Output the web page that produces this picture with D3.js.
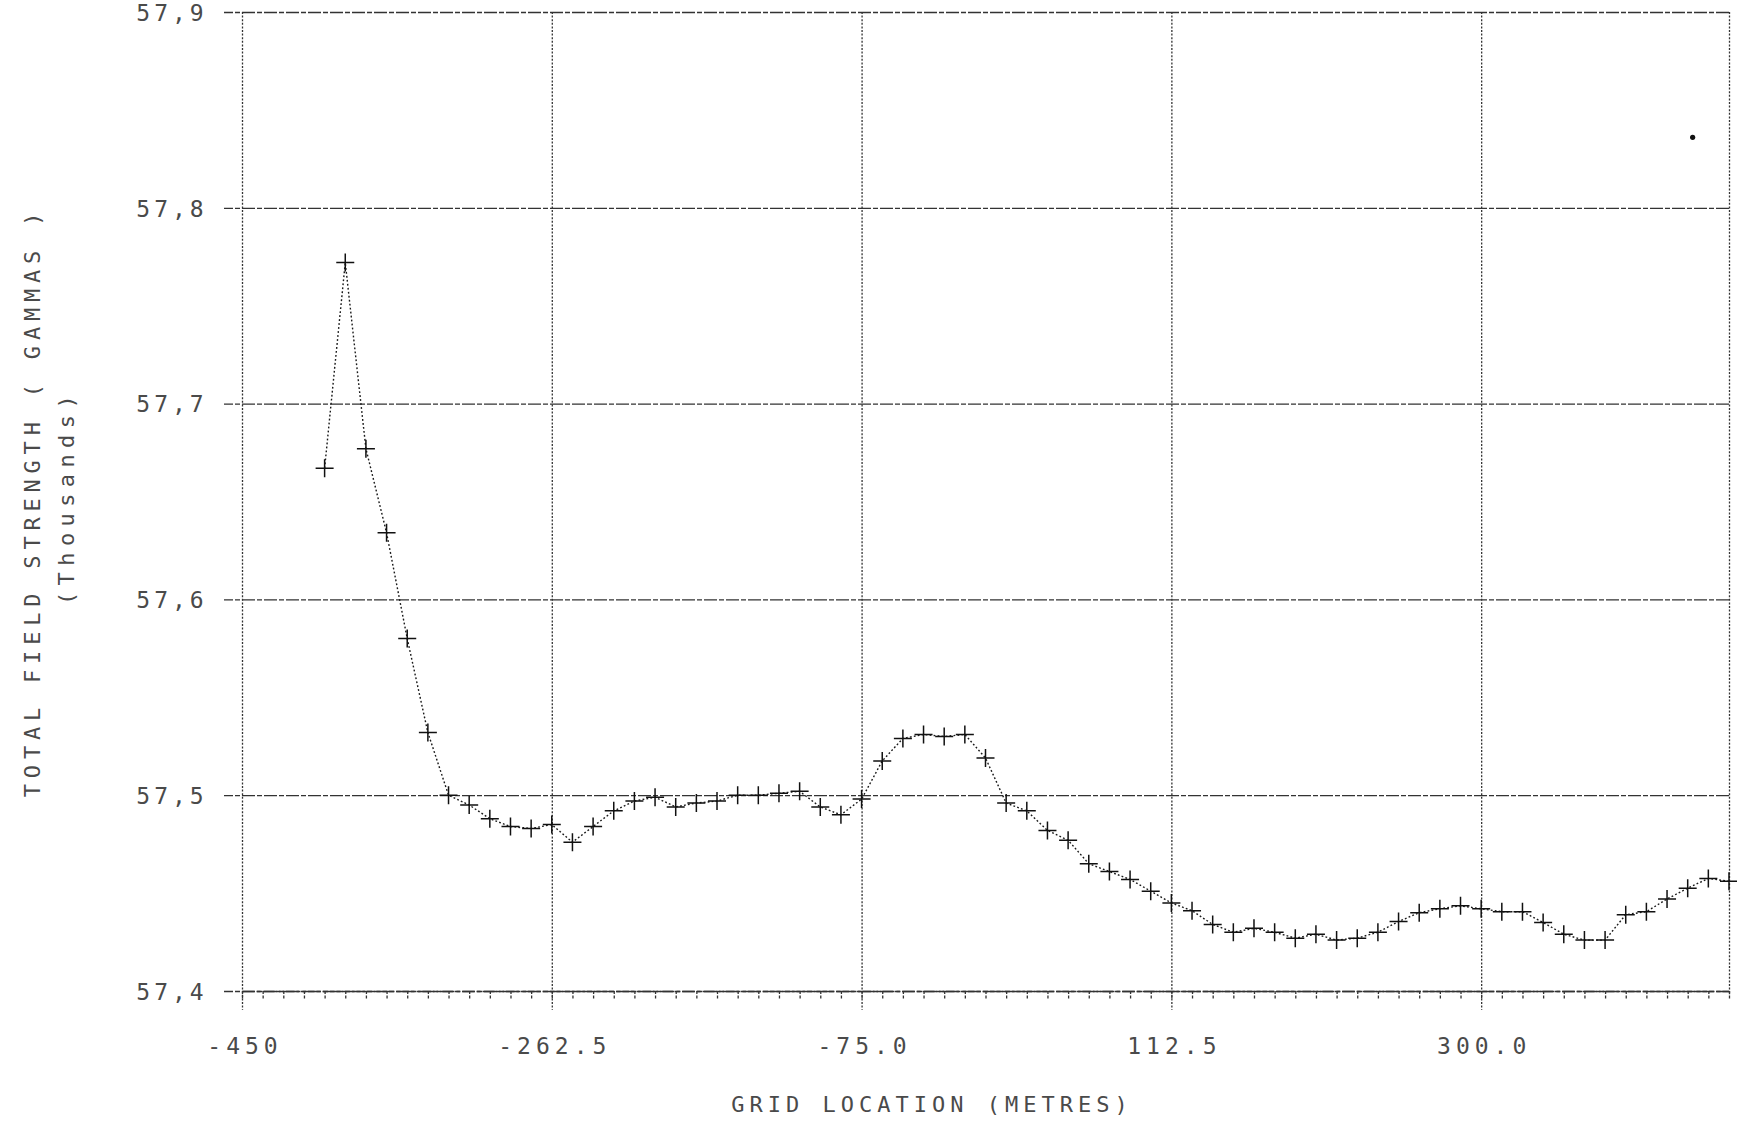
<!DOCTYPE html>
<html>
<head>
<meta charset="utf-8">
<script src="https://cdn.jsdelivr.net/npm/d3@7/dist/d3.min.js"></script>
<style>
  html, body { margin: 0; padding: 0; background: #ffffff; }
  svg { display: block; }
  .lbl { font-family: "DejaVu Sans Mono", "Liberation Mono", monospace; fill: #4a4a4a; }
</style>
</head>
<body>
<svg id="chart" width="1737" height="1127"></svg>
<script>
// ---- data (grid location in metres, total field strength in thousands of gammas) ----
const gridLocation = [
  -400, -387.5, -375, -362.5, -350, -337.5, -325, -312.5, -300, -287.5,
  -275, -262.5, -250, -237.5, -225, -212.5, -200, -187.5, -175, -162.5,
  -150, -137.5, -125, -112.5, -100, -87.5, -75, -62.5, -50, -37.5,
  -25, -12.5, 0, 12.5, 25, 37.5, 50, 62.5, 75, 87.5,
  100, 112.5, 125, 137.5, 150, 162.5, 175, 187.5, 200, 212.5,
  225, 237.5, 250, 262.5, 275, 287.5, 300, 312.5, 325, 337.5,
  350, 362.5, 375, 387.5, 400, 412.5, 425, 437.5, 450
];
const fieldStrength = [
  57.667, 57.772, 57.677, 57.634, 57.580, 57.532, 57.500, 57.495, 57.488, 57.484,
  57.483, 57.485, 57.476, 57.484, 57.492, 57.497, 57.499, 57.494, 57.496, 57.497,
  57.500, 57.500, 57.501, 57.502, 57.494, 57.490, 57.498, 57.5175, 57.529, 57.531,
  57.530, 57.531, 57.519, 57.496, 57.492, 57.482, 57.477, 57.465, 57.461, 57.457,
  57.451, 57.445, 57.441, 57.434, 57.430, 57.432, 57.430, 57.427, 57.429, 57.426,
  57.427, 57.430, 57.4355, 57.440, 57.442, 57.4435, 57.442, 57.4405, 57.4405, 57.435,
  57.429, 57.426, 57.426, 57.439, 57.4405, 57.447, 57.4525, 57.4575, 57.456
];
const xTickValues = [-450, -262.5, -75, 112.5, 300];
const xTickLabels = ["-450", "-262.5", "-75.0", "112.5", "300.0"];
const yTickValues = [57.4, 57.5, 57.6, 57.7, 57.8, 57.9];
const yTickLabels = ["57,4", "57,5", "57,6", "57,7", "57,8", "57,9"];
const xDomain = [-450, 450];
const yDomain = [57.4, 57.9];
const minorStep = 12.5;
const specks = [{x: 428, v: 57.836}];
const xTitle = "GRID LOCATION (METRES)";
const yTitle = "TOTAL FIELD STRENGTH ( GAMMAS )";
const yTitle2 = "(Thousands)";

// ---- layout ----
const L = 242, R = 1729, T = 12, B = 991;
const svg = d3.select("#chart");
const x = d3.scaleLinear().domain(xDomain).range([L, R]);
const y = d3.scaleLinear().domain(yDomain).range([B, T]);

const ink = "#333";

// horizontal grid lines (incl. top border) via axis
const gy = svg.append("g").attr("transform", `translate(${R},0)`)
  .call(d3.axisLeft(y).tickValues(yTickValues).tickFormat((d, i) => yTickLabels[i]).tickSize(R - 224).tickPadding(0));
gy.select(".domain").remove();
gy.selectAll(".tick line").attr("stroke", ink).attr("stroke-width", 1.3)
  .attr("stroke-dasharray", "13,2,5,2");
gy.selectAll(".tick text")
  .attr("class", "lbl")
  .attr("x", 172 - R).attr("text-anchor", "middle")
  .attr("dy", "0.36em")
  .style("font-size", "23px").style("letter-spacing", "4px");

// vertical major grid lines
const gxGrid = svg.append("g").attr("transform", `translate(0,${T})`)
  .call(d3.axisBottom(x).tickValues(xTickValues).tickSize(1010 - T).tickFormat(""));
gxGrid.select(".domain").remove();
gxGrid.selectAll(".tick line").attr("stroke", ink).attr("stroke-width", 1.3)
  .attr("stroke-dasharray", "2,1.6");

// right border
const gRight = svg.append("g").attr("transform", `translate(0,${T})`)
  .call(d3.axisBottom(x).tickValues([xDomain[1]]).tickSize(B + 4 - T).tickFormat(""));
gRight.select(".domain").remove();
gRight.selectAll(".tick line").attr("stroke", ink).attr("stroke-width", 1.3)
  .attr("stroke-dasharray", "2,1.6");

// bottom axis with minor ticks
const minorTicks = d3.range(xDomain[0], xDomain[1] + 0.001, minorStep);
const gx = svg.append("g").attr("transform", `translate(0,${B})`)
  .call(d3.axisBottom(x).tickValues(minorTicks).tickSize(9).tickSizeOuter(0).tickFormat(""));
gx.select(".domain").attr("stroke", ink).attr("stroke-width", 1.4).attr("stroke-dasharray", "12,2,4,2");
gx.selectAll(".tick line").attr("stroke", ink).attr("stroke-width", 1.3).attr("stroke-dasharray", "3,1.5");

// x tick labels
const gxl = svg.append("g").attr("transform", `translate(0,${B})`)
  .call(d3.axisBottom(x).tickValues(xTickValues).tickFormat((d, i) => xTickLabels[i]).tickSize(0).tickPadding(47));
gxl.select(".domain").remove();
gxl.selectAll(".tick text").attr("class", "lbl")
  .style("font-size", "23px").style("letter-spacing", "5px")
  .attr("dx", "2.5px");

// data line (dotted)
const pts = gridLocation.map((g, i) => ({g, v: fieldStrength[i]}));
svg.append("path").datum(pts)
  .attr("fill", "none").attr("stroke", "#1a1a1a").attr("stroke-width", 1.4)
  .attr("stroke-dasharray", "1.8,2.2")
  .attr("d", d3.line().x(d => x(d.g)).y(d => y(d.v)));

// cross markers
svg.append("g").selectAll("path.m").data(pts).join("path")
  .attr("class", "m")
  .attr("transform", d => `translate(${x(d.g)},${y(d.v)})`)
  .attr("d", "M-9,0H9M0,-9V9")
  .attr("stroke", "#111").attr("stroke-width", 1.5).attr("fill", "none");

// stray speck
svg.append("g").selectAll("circle").data(specks).join("circle")
  .attr("cx", d => x(d.x)).attr("cy", d => y(d.v)).attr("r", 2.6).attr("fill", "#111");

// axis titles
svg.append("text").attr("class", "lbl")
  .attr("x", 932).attr("y", 1112).attr("text-anchor", "middle")
  .style("font-size", "22px").style("letter-spacing", "5px")
  .text(xTitle);

svg.append("text").attr("class", "lbl")
  .attr("transform", "translate(40,502) rotate(-90)")
  .attr("text-anchor", "middle")
  .style("font-size", "22px").style("letter-spacing", "5.8px")
  .text(yTitle);

svg.append("text").attr("class", "lbl")
  .attr("transform", "translate(74,497) rotate(-90)")
  .attr("text-anchor", "middle")
  .style("font-size", "22px").style("letter-spacing", "6.4px")
  .text(yTitle2);
</script>
</body>
</html>
